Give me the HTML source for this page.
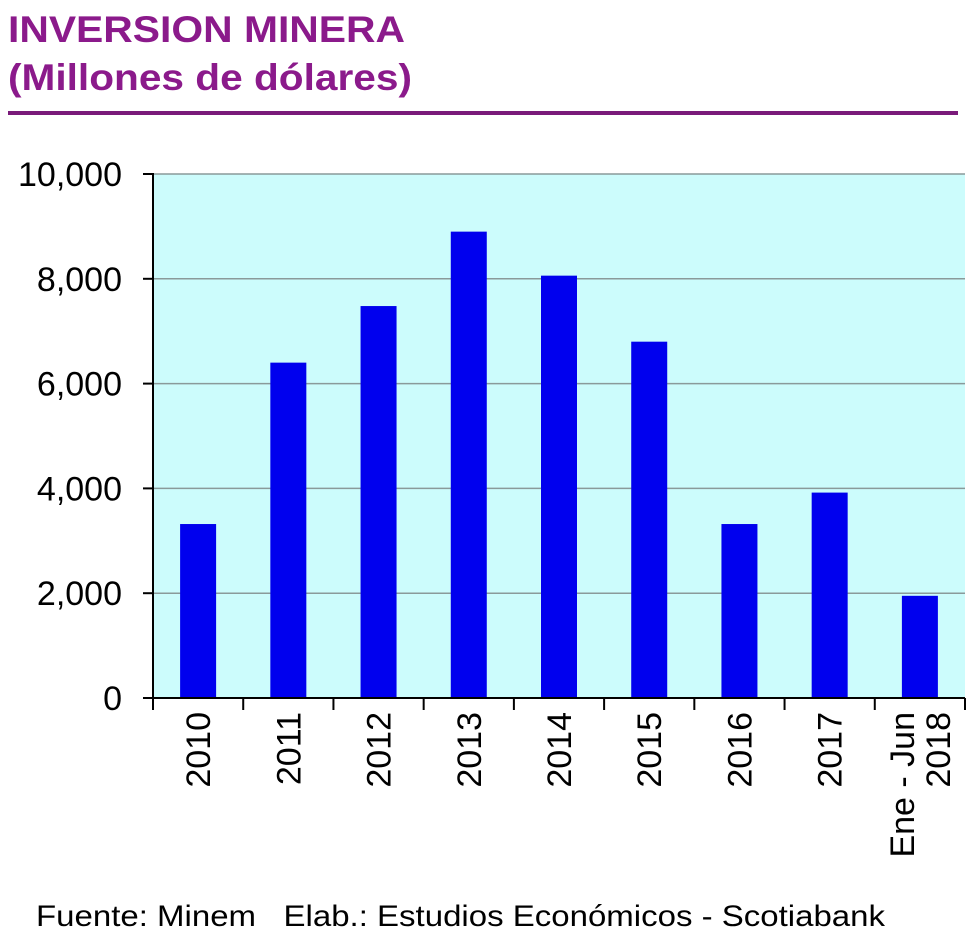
<!DOCTYPE html>
<html><head><meta charset="utf-8"><style>
body{margin:0;background:#fff;width:980px;height:947px;overflow:hidden;font-family:"Liberation Sans",Arial,sans-serif}
</style></head><body>
<svg width="980" height="947" style="position:absolute;left:0;top:0">
<text x="8" y="42" font-size="37" font-weight="bold" fill="#8b1a8b" textLength="397" lengthAdjust="spacingAndGlyphs">INVERSION MINERA</text>
<text x="8" y="90" font-size="37" font-weight="bold" fill="#8b1a8b" textLength="404" lengthAdjust="spacingAndGlyphs">(Millones de dólares)</text>
<rect x="8" y="111" width="950" height="4" fill="#7a1a7a"/>
<rect x="153" y="174" width="812" height="524" fill="#ccfcfc"/>
<g id="grid"></g><g id="bars"></g><g id="axes"></g>
<text x="36" y="926" font-size="30" fill="#000" textLength="849" lengthAdjust="spacingAndGlyphs">Fuente: Minem &#160;&#160;Elab.: Estudios Económicos - Scotiabank</text>
</svg>
<script>
const categories=["2010","2011","2012","2013","2014","2015","2016","2017","Ene - Jun|2018"];
const values=[3320,6400,7480,8900,8060,6800,3320,3920,1950];
const yTicks=[0,2000,4000,6000,8000,10000];
const yTickLabels=["0","2,000","4,000","6,000","8,000","10,000"];
const NS="http://www.w3.org/2000/svg";
const X0=153,X1=965,Y0=698,Y1=174,YMAX=10000;
const bw=(X1-X0)/categories.length;
const y=v=>Y0-(v/YMAX)*(Y0-Y1);
const xc=i=>X0+bw*(i+0.5);
function mk(tag,at,parent){const e=document.createElementNS(NS,tag);for(const k in at)e.setAttribute(k,at[k]);document.getElementById(parent).appendChild(e);return e;}
yTicks.forEach((t,i)=>{
 if(t>0){const g=mk('line',{x1:X0,x2:X1,y1:y(t),y2:y(t),stroke:'#8a9a9a','stroke-width':1.5},'grid');
 
 }
 const tk=mk('line',{x1:X0-10,x2:X0,y1:y(t),y2:y(t),stroke:'#000','stroke-width':2},'axes');
 
 
 const lb=mk('text',{x:X0-31,y:y(t)+12,'font-size':34,'text-anchor':'end',fill:'#000'},'axes');
 lb.textContent=yTickLabels[i];
 
 
});
values.forEach((v,i)=>{
 const r=mk('rect',{x:xc(i)-18,y:y(v),width:36,height:Y0-y(v),fill:'#0000ee'},'bars');
 
 
});
const ax=mk('line',{x1:X0,x2:X0,y1:Y1-1,y2:Y0,stroke:'#000','stroke-width':2},'axes');


const bx=mk('line',{x1:X0,x2:X1,y1:Y0,y2:Y0,stroke:'#000','stroke-width':2},'axes');


for(let i=0;i<=categories.length;i++){
 const t=mk('line',{x1:X0+bw*i,x2:X0+bw*i,y1:Y0,y2:Y0+12,stroke:'#000','stroke-width':2},'axes');
 
 
}
categories.forEach((c,i)=>{
 const lines=c.split('|');
 lines.forEach((s,j)=>{
  const off=(j-(lines.length-1)/2)*36;
  const cx=xc(i)+off+12;
  const t=mk('text',{x:0,y:0,'font-size':34,'text-anchor':'end',fill:'#000',transform:`translate(${cx},${Y0+14}) rotate(-90)`},'axes');
  t.textContent=s;
  
  
 });
});
</script>
</body></html>
